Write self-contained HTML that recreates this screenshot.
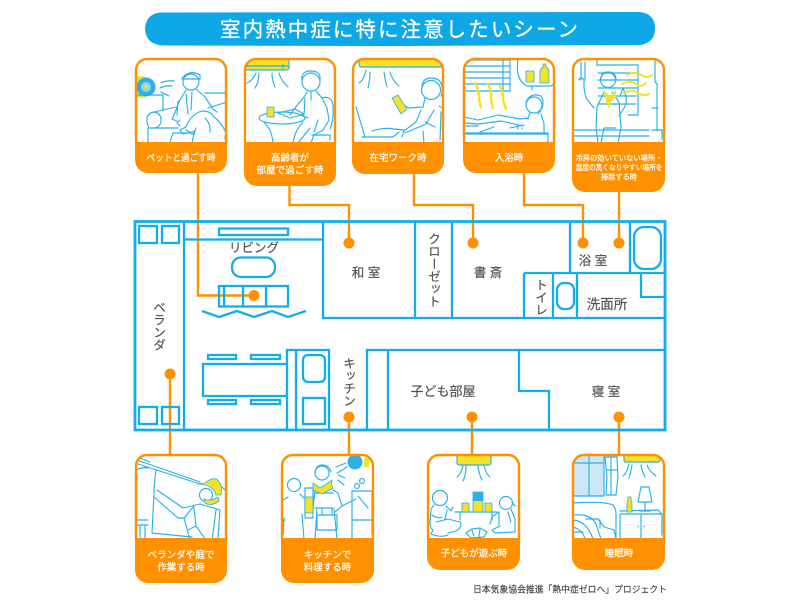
<!DOCTYPE html>
<html lang="ja"><head><meta charset="utf-8"><title>室内熱中症に特に注意したいシーン</title>
<style>
html,body{margin:0;padding:0;background:#fff;width:800px;height:600px;overflow:hidden}
svg{display:block}
text{font-family:"Liberation Sans","Noto Sans CJK JP",sans-serif}
.w{fill:none;stroke:#12aeea;stroke-width:2.300}
.o{fill:none;stroke:#ff9100;stroke-width:2.400}
.i{fill:none;stroke:#29b1e8;stroke-width:1.150;stroke-linejoin:round;stroke-linecap:round}
.y{fill:#f5e12a;stroke:#29b1e8;stroke-width:.8}
.ys{fill:none;stroke:#f2e22c;stroke-width:2.500;stroke-linecap:round}
.c{fill:#fff;stroke:#fff;stroke-width:.2;font-size:9.500px;text-anchor:middle}
.l{fill:#555;stroke:#555;stroke-width:.2;font-size:12.500px;text-anchor:middle}
.v{fill:#555;stroke:#555;stroke-width:.2;font-size:12.500px;writing-mode:vertical-rl;text-anchor:middle}
</style></head><body>
<svg width="800" height="600" viewBox="0 0 800 600" xmlns="http://www.w3.org/2000/svg">
<defs>
<clipPath id="k1"><rect x="136" y="59" width="90" height="84" rx="9"/></clipPath>
<clipPath id="k2"><rect x="245" y="59" width="90" height="84" rx="9"/></clipPath>
<clipPath id="k3"><rect x="353" y="59" width="90" height="84" rx="9"/></clipPath>
<clipPath id="k4"><rect x="464" y="59" width="90" height="84" rx="9"/></clipPath>
<clipPath id="k5"><rect x="573" y="59" width="91" height="84" rx="9"/></clipPath>
<clipPath id="k6"><rect x="136" y="455" width="90" height="84" rx="9"/></clipPath>
<clipPath id="k7"><rect x="282" y="455" width="91" height="84" rx="9"/></clipPath>
<clipPath id="k8"><rect x="428" y="455" width="91" height="84" rx="9"/></clipPath>
<clipPath id="k9"><rect x="573" y="455" width="91" height="84" rx="9"/></clipPath>
</defs>

<!-- title -->
<path d="M160,12.500 L640,12 Q655,14 655,28 Q655,43 640,45 L400,46 L162,45.500 Q146,44 145,29 Q146,14 160,12.500Z" fill="#0ea8e6"/>
<text x="399" y="36.500" fill="#fff" stroke="#fff" stroke-width=".3" font-size="20.500" text-anchor="middle" textLength="358" lengthAdjust="spacing">室内熱中症に特に注意したいシーン</text>

<!-- connectors -->
<path class="o" d="M198,173V295.500H254"/>
<path class="o" d="M289.500,186V205H349V243"/>
<path class="o" d="M414,174V205H473V243"/>
<path class="o" d="M524,173V205H583V243"/>
<path class="o" d="M619,192V243"/>
<path class="o" d="M170,374V455"/>
<path class="o" d="M349,417V455"/>
<path class="o" d="M472,417V455"/>
<path class="o" d="M619,417V455"/>

<!-- floor plan -->
<g class="w">
<rect x="135" y="221.500" width="530" height="208.500" style="stroke-width:2.800"/>
<path d="M184,221V430M184,239.500H323M323,221V318H665M415,221V318M452,221V318M570,221V273M524,273H665M524,273V318M553,273V318M577,273V318M630,221V273M641,273V297H665"/>
<path d="M287,430V350H329V430M296,350V430M367,430V350H665M388,350V430M519,350V391H549V430"/>
<rect x="634" y="227" width="27" height="42" rx="10"/>
<rect x="557" y="283" width="17" height="26" rx="7"/>
<rect x="303" y="355" width="22" height="27" rx="5"/>
<rect x="303" y="398" width="22" height="26"/>
<rect x="139" y="226" width="18" height="17"/><rect x="162" y="226" width="17" height="17"/>
<rect x="139" y="407" width="18" height="17"/><rect x="162" y="407" width="17" height="17"/>
<rect x="219" y="228.500" width="69" height="6.500"/>
<rect x="232" y="257.500" width="43" height="19.500" rx="9"/>
<rect x="219" y="286" width="69" height="20.500"/>
<path d="M224,286V306.500M243,286V306.500M266,286V306.500"/>
<path d="M202,311L219,317L237,311L254,317L272,311L288,317L306,311"/>
<path d="M287,364H203V396H287"/>
<rect x="208" y="355" width="28" height="4"/><rect x="251" y="355" width="29" height="4"/>
<rect x="208" y="400" width="28" height="4"/><rect x="251" y="400" width="29" height="4"/>
</g>

<!-- dots -->
<g fill="#ff9100">
<circle cx="254" cy="295.500" r="5.500"/><circle cx="349" cy="243" r="5.500"/><circle cx="473" cy="243" r="5.500"/>
<circle cx="583" cy="243" r="5.500"/><circle cx="619" cy="243" r="5.500"/><circle cx="170" cy="374" r="5.500"/>
<circle cx="349" cy="417" r="5.500"/><circle cx="472" cy="417" r="5.500"/><circle cx="619" cy="417" r="5.500"/>
</g>

<!-- floor labels -->
<text class="l" x="254" y="252">リビング</text>
<text class="l" x="366" y="277">和 室</text>
<text class="l" x="488" y="277">書 斎</text>
<text class="l" x="593" y="265">浴 室</text>
<text class="l" x="607" y="309" style="font-size:13.500px">洗面所</text>
<text class="l" x="443" y="396" style="font-size:13px">子ども部屋</text>
<text class="l" x="606" y="396">寝 室</text>
<text class="v" x="433" y="270">クローゼット</text>
<text class="v" x="540" y="297">トイレ</text>
<text class="v" x="158" y="326">ベランダ</text>
<text class="v" x="348" y="382">キッチン</text>

<!-- card 1 -->
<g clip-path="url(#k1)">
<circle cx="141" cy="87" r="11" fill="#f5e12a"/>
<circle cx="146" cy="87" r="9.500" fill="#2cb0e6"/><circle cx="146" cy="87" r="5" fill="#8fd4f0"/><circle cx="146" cy="87" r="2" fill="#f5e12a"/>
<g class="i">
<path d="M161,83q6,-3 13,-2M160,88q6,-3 12,-2M161,92l8,4M137,95H163V111"/>
<path d="M147,120q0,-7 7,-8l22,-5M154,112q7,1 7,8q0,7 -7,8h-5q-2,-4 -2,-8M148,128V142M154,128H178M205,93H227M208,108L227,102"/>
<circle cx="191" cy="82" r="8"/><path d="M182,78q8,-9 18,-3v4h-18zM186,90l-6,10l-6,15l-2,4l5,2M196,89l9,8l8,12l4,3M178,101l-1,14M186,94l2,20M192,92l-1,18M180,120l-3,3l3,3"/>
<path d="M186,127q5,-13 16,-16q9,0 12,6q8,6 12,16l-2,10M186,127l-6,3l3,4l12,-3q-2,6 -3,12M205,118q6,6 5,14M196,128l-3,6M186,130l8,5M170,142l3,-9h17"/>
</g>
</g>
<!-- card 2 -->
<g clip-path="url(#k2)">
<rect x="244" y="59" width="45" height="11" fill="#f5e12a"/>
<g class="i">
<path d="M246,70H286Q289,70 289,67V59M247,66H289M283,64v4"/>
<path d="M247,83q6,-3 9,-10M255,88q4,-6 4,-15M272,73q0,8 3,14M279,73q2,8 9,14"/>
<circle cx="311" cy="82" r="9"/><path d="M302,80q-1,-9 9,-9q10,0 9,9M307,92l-3,5l-9,11l-5,7M316,91l6,7l5,10l2,12l-6,10l-9,5l-3,8M305,98l-1,17M311,92v8M322,98q9,-3 11,7q1,15 -3,24M300,115l8,3M312,135h18v5M298,143L310,128M318,120l-4,12"/>
<ellipse cx="282" cy="118" rx="23" ry="6"/>
<path d="M264,122q8,8 9,21M303,122q-8,8 -10,21M278,113l17,-4l9,5l-14,4z"/>
</g>
<rect x="267" y="107" width="7" height="10" class="y"/>
</g>
<!-- card 3 -->
<g clip-path="url(#k3)">
<rect x="359" y="59" width="90" height="8" fill="#f5e12a"/>
<g class="i">
<path d="M359,60V64Q359,67 362,67H445"/>
<path d="M359,83q5,-3 7,-13M368,88q2,-8 2,-16M384,72q1,8 3,15M390,72q2,8 9,14"/>
<path d="M356,107l9,30h-3M365,137h28l6,-5M372,131q12,-4 22,-2l10,1l-2,7"/>
<circle cx="431" cy="90" r="9.500"/><path d="M422,88q0,-10 9,-10q10,0 11,9q1,6 -1,9M425,98l-2,9l-14,1l-8,-4M439,106q5,2 6,8v30M421,110l-5,12l-12,9M434,110l-8,14l-21,9M425,122l10,5M424,143l-1,-12M441,112l-1,30"/>
</g>
<path d="M392,98l6,-3l9,14l-6,5z" class="y"/>
</g>
<!-- card 4 -->
<g clip-path="url(#k4)">
<g class="i">
<path d="M465,60H510V91H465M465,66H510M465,72H509M465,78H510M465,84H510M503,60V91"/>
<path d="M518,60q-3,20 9,26h22q5,0 6,-5M532,86v4"/>
<circle cx="534" cy="105" r="8"/><path d="M526,102q5,-10 15,-6q4,6 0,14l-3,4M530,112l-2,7M541,114l3,10v9M464,117l14,3l20,-5l22,4l8,-1M464,123l15,1l22,-3l22,5M464,126h14M480,132l14,-5M465,133H548v9M465,134H547M510,128l14,-3M517,126l1,3M522,128v1"/>
</g>
<g class="ys"><path d="M475,83q5,9 4,17l2,7M488,84q4,8 3,15l2,9M500,86q4,8 3,15l3,8"/></g>
<rect x="526" y="71" width="8" height="11" fill="#f5e12a" stroke="#29b1e8" stroke-width=".8"/>
<path d="M540,72q0,-3 3,-5v-3h3v3q3,2 3,5v11h-9z" fill="#f5e12a" stroke="#29b1e8" stroke-width=".8"/>
</g>
<!-- card 5 -->
<g clip-path="url(#k5)">
<g class="i">
<path d="M597,60V66M581,62V80M585,62V80M579,80q2,-4 5,0v8l2,10l8,10M597,65H638V115H628M598,73H637M598,80H637M598,88H637M598,96H636M598,104H636M655,60V82M655,82q3,2 2,5v44M652,108h6M652,130h10v13M574,130H649M574,136H649"/>
<circle cx="608" cy="80" r="7.500"/>
<path d="M601,79q0,-7 7,-7q8,0 8,8M604,92l-7,15l-1,20l2,16M612,92l7,10l2,26l-3,15M620,96l3,-8l3,8q1,8 -2,12l-5,8M601,143l3,-15h12"/>
</g>
<path d="M604,90l6,6l6,-6v7l-5,4l-2,8l-3,-7z" fill="#f5e12a"/>
<g class="ys" style="stroke-width:2"><path d="M627,75q8,-4 14,0t11,0M622,84q8,-4 14,0t10,-1M624,93q8,-4 14,0t11,1"/></g>
</g>

<!-- card 6 -->
<g clip-path="url(#k6)">
<g class="i">
<path d="M137,460L200,482M138,464L200,484M136,470q6,-3 12,-2M140,458l10,4M137,476l-1,10M156,470q-2,15 -2,24l-2,39l40,4"/>
<path d="M136,520h12M136,525h12M140,525v15M145,525v15M222,487l4,4v48"/>
<circle cx="206" cy="495" r="6.500"/>
<path d="M157,490l26,18l17,-4l20,6l-2,28M154,497l24,21h6l10,-12M184,518l6,22M194,508l2,18l-8,4M196,526l10,14M216,510l-4,30"/>
</g>
<path d="M197,484l8,-1q6,-5 11,-4q7,4 5,16h-5q-1,-5 -6,-8q-6,-3 -13,-3z" fill="#f5e12a" stroke="#29b1e8" stroke-width=".8"/>
<path d="M204,499q6,3 14,-2l1,4q-8,6 -14,2z" fill="#f5e12a" stroke="#29b1e8" stroke-width=".8"/>
</g>
<!-- card 7 -->
<g clip-path="url(#k7)">
<circle cx="355" cy="462" r="7.500" fill="#2cb0e6"/><rect x="364" y="458" width="5" height="9" fill="#f5e12a"/>
<g class="i">
<path d="M336,467l10,-4M337,473l10,-6M345,478l-7,-3M344,485l-6,-5"/>
<circle cx="294" cy="485" r="6.500"/><circle cx="322" cy="473" r="7"/>
<circle cx="362" cy="481" r="2.500"/><circle cx="357" cy="486" r="2.500"/>
<path d="M315,474q1,-9 7,-9q7,0 9,7M315,490l-2,18M333,490l5,3l4,13l-7,6M315,493H333M315,508H333"/>
<rect x="317" y="515" width="20" height="15"/>
<path d="M322,509v6M332,509v6M315,539l2,-30M337,539l-3,-30"/>
<path d="M288,497l-8,5l-2,14l2,6l5,-2M300,494l5,5M284,518l-1,21M302,514l2,25M342,506l8,-4l6,-3M352,491h20M352,491v48M358,496l10,12M372,491v48M352,520h20"/>
<rect x="305" y="488" width="8" height="30"/>
</g>
<rect x="305" y="497" width="8" height="16" fill="#f5e12a" stroke="#29b1e8" stroke-width=".8"/>
<path d="M313,483l7,5l8,-5l4,-3q-1,6 1,8l-11,6l-9,-4z" fill="#f5e12a" stroke="#29b1e8" stroke-width=".8"/>
</g>
<!-- card 8 -->
<g clip-path="url(#k8)">
<rect x="457" y="455" width="34" height="10" fill="#f5e12a"/>
<g class="i">
<path d="M457,455V463Q457,465 460,465H488Q491,465 491,463V455"/>
<path d="M457,477q4,-3 6,-11M463,481q3,-6 3,-15M478,466q1,8 4,14M484,466q2,8 6,11"/>
<circle cx="440" cy="498" r="7.500"/><circle cx="506" cy="503" r="6.500"/>
<path d="M434,505l-3,4l-1,12q0,8 3,9l-2,4q10,4 17,1M446,506l5,5l2,-4M436,522l12,-3l12,3q3,5 -4,9l-8,2M447,510l-2,9M432,515q6,4 10,2"/>
<path d="M455,512H497M460,512v8M492,512v8"/>
<path d="M499,512l-7,5l-2,7M511,509l4,10v13l-20,1l-3,-3l8,-4M499,512v13M512,502l3,4M508,512l3,10"/>
<path d="M466,533l6,-4l8,-1l7,4l-3,5l-13,1zM472,530l2,6M480,529l-1,7"/>
</g>
<rect x="462" y="503" width="7" height="9" class="y"/><rect x="485" y="503" width="7" height="9" class="y"/>
<rect x="473" y="492" width="10" height="20" fill="#f5e12a" stroke="#29b1e8" stroke-width=".8"/>
<rect x="473" y="492" width="10" height="9" fill="#2cb0e6"/>
</g>
<!-- card 9 -->
<g clip-path="url(#k9)">
<rect x="573" y="456" width="31" height="40" fill="#cde6f5"/>
<rect x="624" y="456" width="36" height="6" fill="#f5e12a"/>
<g class="i">
<path d="M573,463H604M589,456V496M604,456V496M573,496H604M605,457h12l1,20l-2,18h-10l1,-18zM611,458v36M606,470H617"/>
<path d="M624,456v4q0,2 2,2h32q2,0 2,-2v-4"/>
<path d="M623,476q4,-3 6,-12M629,478q2,-6 3,-13M641,465q1,6 4,12M647,465q2,6 9,11"/>
<path d="M573,503q30,-2 40,2q3,3 3,10v24M573,515q20,-2 24,12l4,12M573,520q14,1 20,19M586,519l12,0l6,8l10,3l2,9M600,520v8M573,527q10,3 12,12M573,532h10"/>
<path d="M620,511l38,-1l4,4v25M620,514V539M620,514H662M641,514v25M638,526v1M644,526v1"/>
<path d="M645,502V511M640,511h10M641,487h8l3,15h-14z"/>
</g>
<path d="M627,512v-9q0,-2 1,-3v-3h3v3q1,1 1,3v9z" fill="#f5e12a" stroke="#29b1e8" stroke-width=".8"/>
</g>

<!-- card frames with orange panels -->
<g fill="#ff9100">
<path d="M135,142H227V160a13,13 0 0 1 -13,13H148a13,13 0 0 1 -13,-13Z"/>
<path d="M244,142H336V173a13,13 0 0 1 -13,13H257a13,13 0 0 1 -13,-13Z"/>
<path d="M352,142H444V161a13,13 0 0 1 -13,13H365a13,13 0 0 1 -13,-13Z"/>
<path d="M463,142H555V160a13,13 0 0 1 -13,13H476a13,13 0 0 1 -13,-13Z"/>
<path d="M572,142H665V179a13,13 0 0 1 -13,13H585a13,13 0 0 1 -13,-13Z"/>
<path d="M135,538H227V570a13,13 0 0 1 -13,13H148a13,13 0 0 1 -13,-13Z"/>
<path d="M281,538H374V570a13,13 0 0 1 -13,13H294a13,13 0 0 1 -13,-13Z"/>
<path d="M427,538H520V557a13,13 0 0 1 -13,13H440a13,13 0 0 1 -13,-13Z"/>
<path d="M572,538H665V557a13,13 0 0 1 -13,13H585a13,13 0 0 1 -13,-13Z"/>
</g>
<g class="o">
<path d="M136,143V70a11,11 0 0 1 11,-11H215a11,11 0 0 1 11,11V143"/>
<path d="M245,143V70a11,11 0 0 1 11,-11H324a11,11 0 0 1 11,11V143"/>
<path d="M353,143V70a11,11 0 0 1 11,-11H432a11,11 0 0 1 11,11V143"/>
<path d="M464,143V70a11,11 0 0 1 11,-11H543a11,11 0 0 1 11,11V143"/>
<path d="M573,143V70a11,11 0 0 1 11,-11H653a11,11 0 0 1 11,11V143"/>
<path d="M136,539V466a11,11 0 0 1 11,-11H215a11,11 0 0 1 11,11V539"/>
<path d="M282,539V466a11,11 0 0 1 11,-11H362a11,11 0 0 1 11,11V539"/>
<path d="M428,539V466a11,11 0 0 1 11,-11H508a11,11 0 0 1 11,11V539"/>
<path d="M573,539V466a11,11 0 0 1 11,-11H653a11,11 0 0 1 11,11V539"/>
</g>

<!-- card captions -->
<text class="c" x="181" y="161" textLength="69" lengthAdjust="spacingAndGlyphs">ペットと過ごす時</text>
<text class="c" x="290" y="161">高齢者が</text>
<text class="c" x="290" y="173.500" textLength="67" lengthAdjust="spacingAndGlyphs">部屋で過ごす時</text>
<text class="c" x="398" y="161">在宅ワーク時</text>
<text class="c" x="509" y="161">入浴時</text>
<text class="c" x="619" y="160.500" style="font-size:7.200px" textLength="87" lengthAdjust="spacingAndGlyphs">冷房の効いていない場所・</text>
<text class="c" x="619" y="170" style="font-size:7.200px" textLength="87" lengthAdjust="spacingAndGlyphs">湿度の高くなりやすい場所を</text>
<text class="c" x="619" y="179.500" style="font-size:7.200px">掃除する時</text>
<text class="c" x="181" y="558" textLength="67" lengthAdjust="spacingAndGlyphs">ベランダや庭で</text>
<text class="c" x="181" y="570.500">作業する時</text>
<text class="c" x="327.500" y="558">キッチンで</text>
<text class="c" x="327.500" y="570.500">料理する時</text>
<text class="c" x="474" y="556.500">子どもが遊ぶ時</text>
<text class="c" x="619" y="556.500">睡眠時</text>

<text x="473" y="592.500" fill="#444" stroke="#444" stroke-width=".15" font-size="9" textLength="194" lengthAdjust="spacingAndGlyphs">日本気象協会推進「熱中症ゼロへ」プロジェクト</text>
</svg>
</body></html>
